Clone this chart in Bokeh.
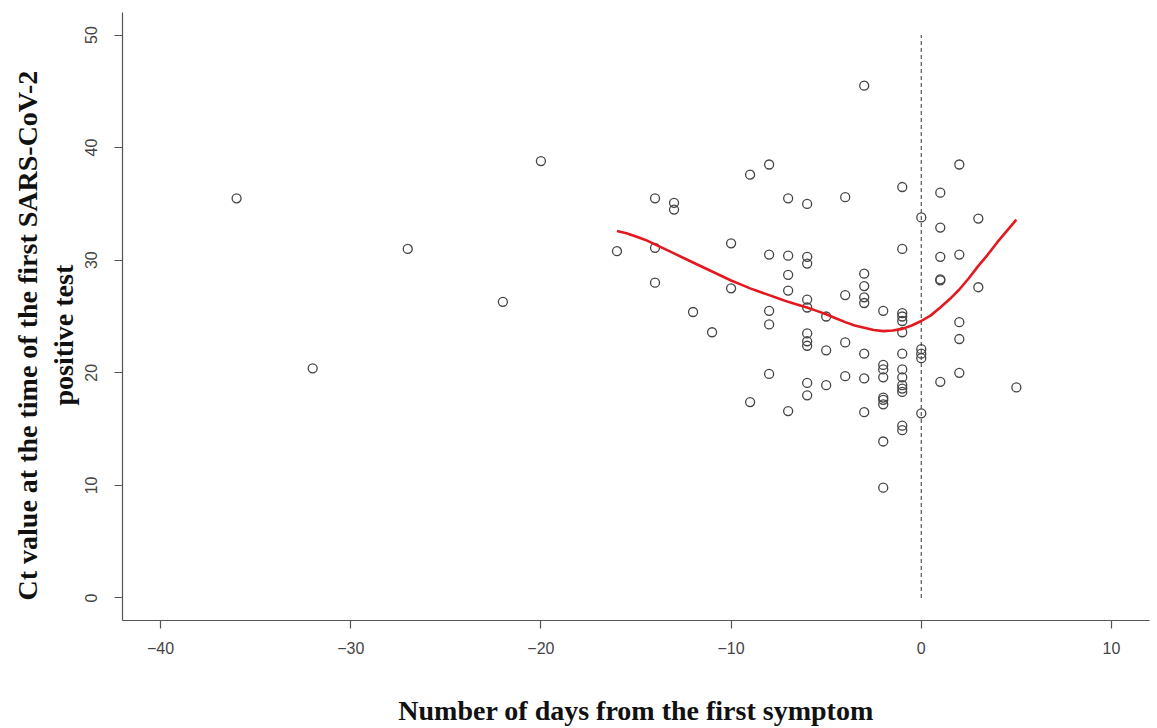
from bokeh.plotting import figure
from bokeh.models import FixedTicker, Range1d, Title
from bokeh.embed import file_html
from bokeh.resources import INLINE

# ---- data ----
days = [-36, -32, -27, -22, -20,
        -16,
        -14, -14, -14,
        -13, -13,
        -12,
        -11,
        -10, -10,
        -9, -9,
        -8, -8, -8, -8, -8,
        -7, -7, -7, -7, -7,
        -6, -6, -6, -6, -6, -6, -6, -6, -6, -6,
        -5, -5, -5,
        -4, -4, -4, -4,
        -3, -3, -3, -3, -3, -3, -3, -3,
        -2, -2, -2, -2, -2, -2, -2, -2, -2,
        -1, -1, -1, -1, -1, -1, -1, -1, -1, -1, -1, -1, -1, -1,
        0, 0, 0, 0, 0,
        1, 1, 1, 1, 1, 1,
        2, 2, 2, 2, 2,
        3, 3,
        5]
ct = [35.5, 20.4, 31.0, 26.3, 38.8,
      30.8,
      35.5, 31.1, 28.0,
      35.1, 34.5,
      25.4,
      23.6,
      31.5, 27.5,
      37.6, 17.4,
      38.5, 30.5, 25.5, 24.3, 19.9,
      35.5, 30.4, 28.7, 27.3, 16.6,
      35.0, 30.3, 29.7, 26.5, 25.8, 23.5, 22.8, 22.4, 19.1, 18.0,
      25.0, 22.0, 18.9,
      35.6, 26.9, 22.7, 19.7,
      45.5, 28.8, 27.7, 26.7, 26.2, 21.7, 19.5, 16.5,
      25.5, 20.7, 20.3, 19.6, 17.8, 17.6, 17.2, 13.9, 9.8,
      36.5, 31.0, 25.3, 25.0, 24.6, 23.6, 21.7, 20.3, 19.6, 18.9, 18.6, 18.3, 15.3, 14.9,
      33.8, 22.1, 21.7, 21.3, 16.4,
      36.0, 32.9, 30.3, 28.2, 28.3, 19.2,
      38.5, 30.5, 24.5, 23.0, 20.0,
      33.7, 27.6,
      18.7]

smooth_x = [-16, -15.5, -15, -14.5, -14, -13.5, -13, -12.5, -12, -11.5, -11, -10.5,
            -10, -9.5, -9, -8.5, -8, -7.5, -7, -6.5, -6, -5.5, -5, -4.5, -4, -3.5,
            -3, -2.5, -2, -1.5, -1, -0.5, 0, 0.5, 1, 1.5, 2, 2.5, 3, 3.5, 4, 4.5, 5]
smooth_y = [32.6, 32.4, 32.1, 31.8, 31.4, 31.0, 30.6, 30.2, 29.8, 29.4, 29.0, 28.6,
            28.2, 27.85, 27.5, 27.2, 26.9, 26.6, 26.3, 26.05, 25.8, 25.5, 25.2, 24.85, 24.5, 24.2,
            24.0, 23.8, 23.7, 23.75, 23.9, 24.2, 24.6, 25.1, 25.8, 26.55, 27.4, 28.4, 29.5, 30.5, 31.6, 32.6, 33.6]

ref_x = [0, 0]
ref_y = [0, 50]

x_ticks = [-40, -30, -20, -10, 0, 10]
x_tick_labels = ["\u221240", "\u221230", "\u221220", "\u221210", "0", "10"]
y_ticks = [0, 10, 20, 30, 40, 50]
y_tick_labels = ["0", "10", "20", "30", "40", "50"]

x_title = "Number of days from the first symptom"
y_title_line1 = "Ct value at the time of the first SARS-CoV-2"
y_title_line2 = "positive test"

# ---- figure ----
p = figure(width=1157, height=728, output_backend="svg", toolbar_location=None,
           x_range=Range1d(-42, 12), y_range=Range1d(-2, 52),
           min_border_left=122, min_border_right=8, min_border_top=12, min_border_bottom=107)
p.grid.visible = False
p.outline_line_color = None
p.background_fill_color = "white"
p.border_fill_color = "white"

p.line(ref_x, ref_y, line_color="#555555", line_width=1.2, line_dash="4 3")
p.scatter(days, ct, size=9, marker="circle", fill_color=None, line_color="#444444", line_width=1.3)
p.line(smooth_x, smooth_y, line_color="#e4191f", line_width=2.6)

grey = "#555555"
for ax in (p.xaxis[0], p.yaxis[0]):
    ax.axis_line_color = grey
    ax.axis_line_width = 1.2
    ax.major_tick_line_color = grey
    ax.major_tick_line_width = 1.2
    ax.major_tick_in = 0
    ax.major_tick_out = 8
    ax.minor_tick_line_color = None
    ax.major_label_text_font = "Liberation Sans"
    ax.major_label_text_font_size = "16px"
    ax.major_label_text_color = "#444444"
    ax.axis_label_text_font = "Liberation Serif"
    ax.axis_label_text_font_style = "bold"
    ax.axis_label_text_font_size = "28px"
    ax.axis_label_text_color = "#111111"

p.xaxis[0].ticker = FixedTicker(ticks=x_ticks)
p.xaxis[0].major_label_overrides = dict(zip(x_ticks, x_tick_labels))
p.xaxis[0].major_label_standoff = 13
p.xaxis[0].axis_label = x_title
p.xaxis[0].axis_label_standoff = 38

p.yaxis[0].ticker = FixedTicker(ticks=y_ticks)
p.yaxis[0].major_label_overrides = dict(zip(y_ticks, y_tick_labels))
p.yaxis[0].major_label_orientation = "vertical"
p.yaxis[0].major_label_standoff = 17

# y-axis title as two left-side titles (inner line first), shifted along the axis
for text, off, so in [(y_title_line2, 215, 6), (y_title_line1, 20, 0)]:
    p.add_layout(Title(text=text, align="left", offset=off, standoff=so,
                       vertical_align="middle",
                       text_font="Liberation Serif", text_font_style="bold",
                       text_font_size="28px", text_color="#111111"), "left")

open("out.html", "w").write(file_html(p, INLINE))
